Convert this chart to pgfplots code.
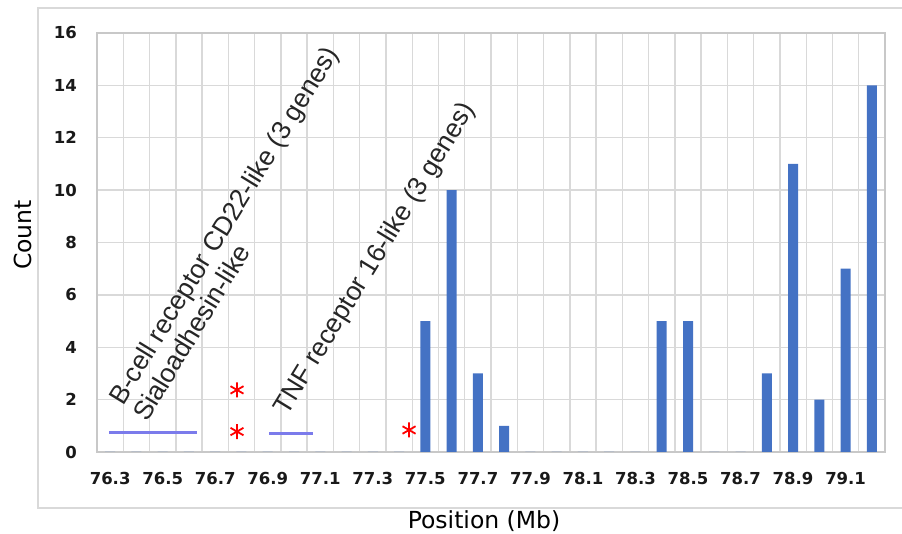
\documentclass[border=0pt]{standalone}
\usepackage{fontspec}
\setmainfont{DejaVu Sans}
\newfontfamily\arialf{Liberation Sans}
\usepackage{pgfplots}
\pgfplotsset{compat=1.18}
\definecolor{barblue}{RGB}{68,114,196}
\definecolor{linepurple}{RGB}{123,123,235}
\definecolor{gridgray}{RGB}{217,217,217}
\definecolor{axgray}{RGB}{200,200,200}
\pgfplotstableread{
idx count
0 0
1 0
2 0
3 0
4 0
5 0
6 0
7 0
8 0
9 0
10 0
11 0
12 5
13 10
14 3
15 1
16 0
17 0
18 0
19 0
20 0
21 5
22 5
23 0
24 0
25 3
26 11
27 2
28 7
29 14
}\counts
\begin{document}
\begin{tikzpicture}[x=1pt,y=1pt]
\useasboundingbox (0,0) rectangle (902,534);
\draw[gridgray, line width=1.5pt] (38,26) rectangle (915,526);
\begin{axis}[
 at={(97pt,82pt)}, anchor=south west,
 scale only axis, width=788pt, height=419pt,
 xmin=-0.5, xmax=29.5, ymin=0, ymax=16,
 xtick={0,2,...,28},
 xticklabels={76.3,76.5,76.7,76.9,77.1,77.3,77.5,77.7,77.9,78.1,78.3,78.5,78.7,78.9,79.1},
 minor xtick={-0.5,0.5,...,29.5},
 ytick={0,2,...,16},
 xminorgrids, ymajorgrids,
 minor grid style={gridgray, line width=1.4pt},
 major grid style={gridgray, line width=1.4pt},
 major tick length=0pt, minor tick length=0pt,
 axis line style={axgray, line width=1.5pt},
 /pgf/number format/assume math mode=true,
 ticklabel style={font=\fontsize{16.5}{16.5}\selectfont\bfseries, inner sep=0pt, text=black!90},
 xticklabel style={yshift=-20pt},
 yticklabel style={xshift=-20pt},
 clip=false,
]
\addplot[ybar, bar width=10pt, fill=barblue, draw=none] table[x=idx, y=count] {\counts};
\addplot[linepurple, line width=3pt, mark=none] coordinates {(-0.04,0.75) (3.30,0.75)};
\addplot[linepurple, line width=3pt, mark=none] coordinates {(6.05,0.71) (7.71,0.71)};
\addplot[only marks, mark=asterisk, mark size=7.5pt, red, line width=1.8pt] coordinates {(4.83,2.37) (4.83,0.78) (11.38,0.84)};
\node[rotate=58.5, anchor=base west, inner sep=0pt, text=black!85, font=\arialf\fontsize{26.5}{26.5}\selectfont] at (axis cs:0.49,1.72) {B-cell receptor CD22-like (3 genes)};
\node[rotate=58.5, anchor=base west, inner sep=0pt, text=black!85, font=\arialf\fontsize{26.5}{26.5}\selectfont] at (axis cs:1.40,1.11) {Sialoadhesin-like};
\node[rotate=58.5, anchor=base west, inner sep=0pt, text=black!85, font=\arialf\fontsize{26.5}{26.5}\selectfont] at (axis cs:6.73,1.34) {TNF receptor 16-like (3 genes)};
\end{axis}
\node[rotate=90, font=\fontsize{23.5}{23.5}\selectfont] at (23,299) {Count};
\node[anchor=base, font=\fontsize{23.5}{23.5}\selectfont] at (484,5) {Position (Mb)};
\end{tikzpicture}
\end{document}
